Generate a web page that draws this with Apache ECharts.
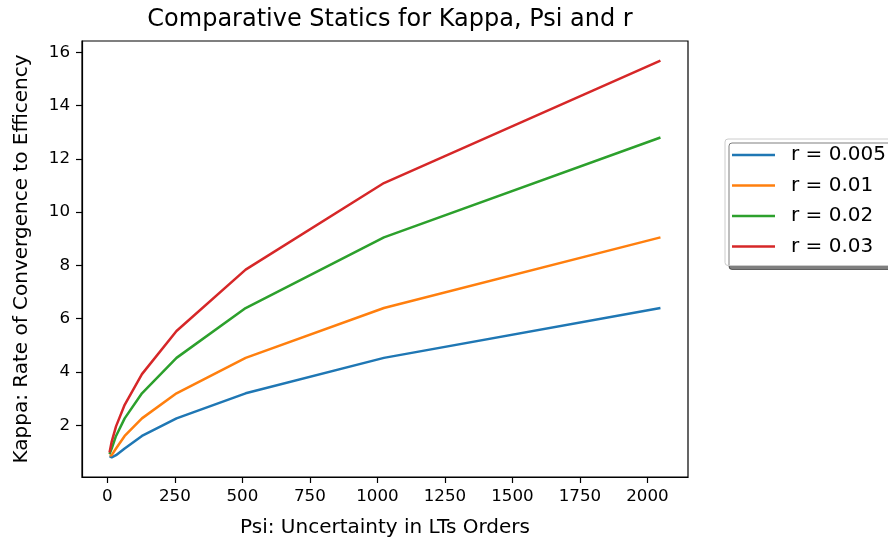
<!DOCTYPE html>
<html>
<head>
<meta charset="utf-8">
<script src="https://cdn.jsdelivr.net/npm/echarts@6/dist/echarts.min.js"></script>
<style>
  html, body { margin: 0; padding: 0; background: #fff; }
  #chart { width: 888px; height: 543px; }
</style>
</head>
<body>
<div id="chart"></div>
<script>
// Psi values (LT orders) on the x axis
const psi = [8, 16, 32, 64, 128, 256, 512, 1024, 2048];

// Kappa for each interest rate r
const kappaR005 = [0.84, 0.80, 0.88, 1.13, 1.60, 2.26, 3.20, 4.53, 6.40];
const kappaR01  = [0.87, 0.88, 1.13, 1.60, 2.26, 3.20, 4.53, 6.40, 9.05];
const kappaR02  = [0.92, 1.13, 1.60, 2.26, 3.20, 4.53, 6.40, 9.05, 12.80];
const kappaR03  = [0.98, 1.39, 1.96, 2.77, 3.92, 5.54, 7.84, 11.09, 15.68];

const seriesNames = ['r = 0.005', 'r = 0.01', 'r = 0.02', 'r = 0.03'];
const seriesValues = [kappaR005, kappaR01, kappaR02, kappaR03];
const colors = ['#1f77b4', '#ff7f0e', '#2ca02c', '#d62728'];

// Tick labels
const xTicks = [0, 250, 500, 750, 1000, 1250, 1500, 1750, 2000];
const yTicks = [2, 4, 6, 8, 10, 12, 14, 16];

const font = 'DejaVu Sans';

const chart = echarts.init(document.getElementById('chart'), null, { renderer: 'canvas' });

chart.setOption({
  animation: false,
  backgroundColor: '#ffffff',
  title: {
    text: 'Comparative Statics for Kappa, Psi and r',
    left: 385,
    textAlign: 'center',
    top: 3,
    textStyle: { fontFamily: font, fontSize: 24, fontWeight: 'normal', color: '#000' }
  },
  grid: {
    left: 82, right: 200, top: 41, bottom: 64,
    show: true, borderColor: '#000', borderWidth: 1.2, backgroundColor: 'transparent'
  },
  legend: {
    orient: 'vertical',
    left: 725, top: 139,
    padding: [6, 24, 9, 7],
    icon: 'path://M0 0H43V2.5H0Z',
    itemWidth: 43, itemHeight: 2.5, itemGap: 10.5,
    backgroundColor: '#fff',
    borderColor: '#cccccc', borderWidth: 1, borderRadius: 3,
    shadowColor: 'rgba(0,0,0,0.5)', shadowBlur: 0, shadowOffsetX: 4, shadowOffsetY: 4,
    textStyle: { fontFamily: font, fontSize: 20, color: '#000', lineHeight: 20, padding: [0, 0, 0, 11] },
    data: seriesNames
  },
  xAxis: {
    type: 'value',
    min: -94, max: 2150,
    name: 'Psi: Uncertainty in LTs Orders',
    nameLocation: 'middle',
    nameGap: 41,
    nameTextStyle: { fontFamily: font, fontSize: 20, color: '#000', verticalAlign: 'top' },
    axisLine: { show: true, onZero: false, lineStyle: { color: '#000', width: 1.2 } },
    axisTick: { show: true, length: 6, lineStyle: { color: '#000', width: 1.2 }, customValues: xTicks },
    axisLabel: { fontFamily: font, fontSize: 16.7, color: '#000', margin: 11, customValues: xTicks,
                 formatter: v => String(v) },
    splitLine: { show: false }
  },
  yAxis: {
    type: 'value',
    min: 0.06, max: 16.42,
    name: 'Kappa: Rate of Convergence to Efficency',
    nameLocation: 'middle',
    nameGap: 50,
    nameTextStyle: { fontFamily: font, fontSize: 20, color: '#000' },
    axisLine: { show: true, onZero: false, lineStyle: { color: '#000', width: 1.2 } },
    axisTick: { show: true, length: 6, lineStyle: { color: '#000', width: 1.2 }, customValues: yTicks },
    axisLabel: { fontFamily: font, fontSize: 16.7, color: '#000', margin: 12, customValues: yTicks,
                 formatter: v => String(v) },
    splitLine: { show: false }
  },
  series: seriesNames.map((name, i) => ({
    name: name,
    type: 'line',
    symbol: 'none',
    color: colors[i],
    lineStyle: { width: 2.5, color: colors[i] },
    data: psi.map((x, j) => [x, seriesValues[i][j]])
  }))
});
</script>
</body>
</html>
